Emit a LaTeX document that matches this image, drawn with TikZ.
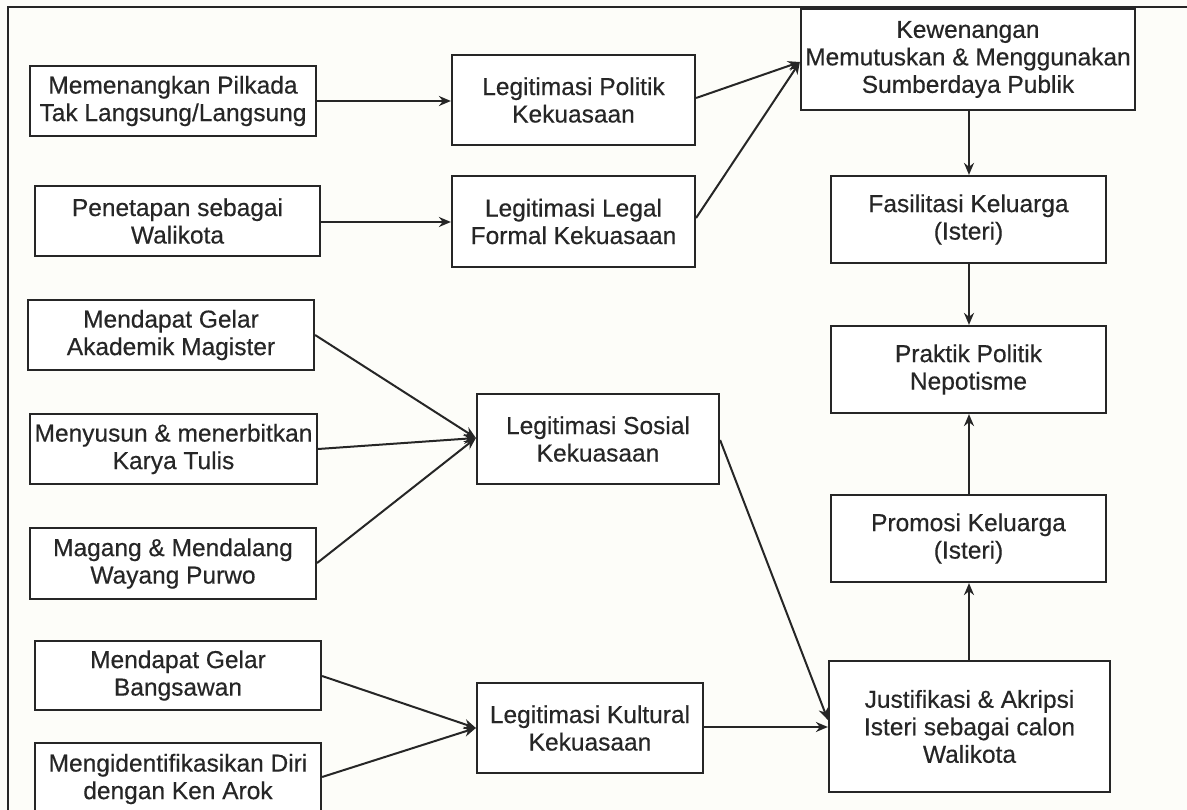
\documentclass[tikz,border=0pt]{standalone}
\usepackage{fontspec}
\setmainfont{Liberation Sans}
\newfontfamily\labelfont[FakeBold=0.4]{Liberation Sans}
\usetikzlibrary{arrows.meta}
\definecolor{ink}{HTML}{262626}
\definecolor{paper}{HTML}{FDFDF9}
\tikzset{
  box/.style={draw=ink, line width=2.2pt, fill=white, align=center, inner sep=0pt,
    font=\labelfont\fontsize{24.5}{27.5}\selectfont, text=ink},
  link/.style={draw=ink, line width=2pt, -{Stealth[length=12pt,width=10pt]}},
  plain/.style={draw=ink, line width=2pt}
}
% place a box by its corners (x1,y1) and (x2,y2)
\newcommand{\boxat}[6]{%
  \node[box, minimum width={#4-#2}, minimum height={#5-#3}] (#1) at ({(#2+#4)/2},{(#3+#5)/2}) {#6};}
\begin{document}
\begin{tikzpicture}[x=1pt,y=-1pt]
\clip (0,0) rectangle (1187,810);
\fill[paper] (0,0) rectangle (1187,810);
% outer frame (top and left edges)
\draw[plain, line width=2.6pt] (8,811) -- (8,7) -- (1188,7);

% source boxes
\boxat{pilkada}{30}{66}{316}{136}{Memenangkan Pilkada\\Tak Langsung/Langsung}
\boxat{penetapan}{35}{186}{320}{256}{Penetapan sebagai\\Walikota}
\boxat{magister}{28}{300}{314}{370}{Mendapat Gelar\\Akademik Magister}
\boxat{karya}{30}{414}{317}{484}{Menyusun \& menerbitkan\\Karya Tulis}
\boxat{magang}{30}{528}{316}{599}{Magang \& Mendalang\\Wayang Purwo}
\boxat{bangsawan}{35}{641}{321}{710}{Mendapat Gelar\\Bangsawan}
\boxat{kenarok}{35}{743}{321}{815}{Mengidentifikasikan Diri\\dengan Ken Arok}

% legitimacy boxes
\boxat{politik}{452}{55}{695}{145}{Legitimasi Politik\\Kekuasaan}
\boxat{legal}{452}{176}{695}{267}{Legitimasi Legal\\Formal Kekuasaan}
\boxat{sosial}{477}{394}{719}{484}{Legitimasi Sosial\\Kekuasaan}
\boxat{kultural}{477}{683}{703}{773}{Legitimasi Kultural\\Kekuasaan}

% right-hand chain
\boxat{kewenangan}{801}{9}{1135}{110}{Kewenangan\\Memutuskan \& Menggunakan\\Sumberdaya Publik}
\boxat{fasilitasi}{831}{176}{1106}{263}{Fasilitasi Keluarga\\(Isteri)}
\boxat{praktik}{831}{326}{1106}{413}{Praktik Politik\\Nepotisme}
\boxat{promosi}{831}{495}{1106}{582}{Promosi Keluarga\\(Isteri)}
\boxat{justifikasi}{829}{661}{1110}{792}{Justifikasi \& Akripsi\\Isteri sebagai calon\\Walikota}

% connectors
\draw[link] (pilkada.east |- 0,101) -- (politik.west |- 0,101);
\draw[link] (penetapan.east |- 0,222) -- (legal.west |- 0,222);
\coordinate (kwin) at (kewenangan.west |- 0,62);
\draw[link] (politik.east |- 0,98) -- (kwin);
\draw[link] (legal.east |- 0,218) -- (kwin);

\coordinate (sosin) at (sosial.west |- 0,438);
\draw[link] (magister.east |- 0,335) -- (sosin);
\draw[link] (karya.east |- 0,449) -- (sosin);
\draw[link] (magang.east |- 0,563) -- (sosin);

\coordinate (kulin) at (kultural.west |- 0,728);
\draw[link] (bangsawan.east |- 0,676) -- (kulin);
\draw[link] (kenarok.east |- 0,777) -- (kulin);

\draw[link] (sosial.east |- 0,440) -- (justifikasi.west |- 0,720);
\draw[link] (kultural.east |- 0,727) -- (justifikasi.west |- 0,727);

\draw[link] (kewenangan.south -| 969,0) -- (fasilitasi.north -| 969,0);
\draw[link] (fasilitasi.south -| 969,0) -- (praktik.north -| 969,0);
\draw[link] (promosi.north -| 969,0) -- (praktik.south -| 969,0);
\draw[link] (justifikasi.north -| 969,0) -- (promosi.south -| 969,0);
\end{tikzpicture}
\end{document}
